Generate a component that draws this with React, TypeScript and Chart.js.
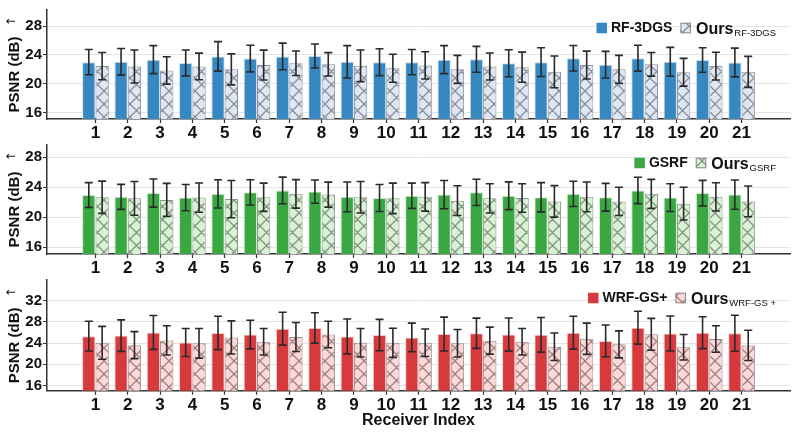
import React, { useEffect, useRef } from 'react';
import { Chart, registerables } from 'chart.js';

Chart.register(...registerables);

// ---------------- DATA ----------------
const receivers = ['1','2','3','4','5','6','7','8','9','10','11','12','13','14','15','16','17','18','19','20','21'];

const rf3dgsMean = [23.0, 23.05, 23.35, 22.9, 23.8, 23.5, 23.8, 23.85, 23.05, 23.0, 23.0, 23.35, 23.4, 22.85, 23.0, 23.55, 22.65, 23.55, 23.05, 23.3, 22.95];
const rf3dgsStd = [1.75, 1.85, 1.95, 1.8, 2.05, 1.85, 1.85, 1.67, 2.25, 1.87, 1.76, 1.95, 1.8, 1.87, 2.0, 1.77, 1.85, 1.8, 2.0, 1.7, 2.0];
const oursRf3dgsMean = [22.45, 22.4, 21.85, 22.4, 22.0, 22.6, 22.85, 22.7, 22.5, 22.15, 22.55, 22.0, 22.4, 22.3, 21.65, 22.6, 22.0, 22.7, 21.6, 22.45, 21.65];
const oursRf3dgsStd = [1.9, 2.3, 1.9, 1.85, 2.15, 2.07, 1.7, 1.62, 2.2, 1.95, 1.9, 1.95, 1.87, 2.1, 2.2, 1.93, 1.95, 1.64, 1.93, 1.93, 2.15];

const gsrfMean = [22.95, 22.7, 23.2, 22.6, 23.1, 23.3, 23.55, 23.4, 22.7, 22.55, 22.85, 23.0, 23.3, 22.85, 22.65, 23.1, 22.65, 23.55, 22.6, 23.2, 23.0];
const gsrfStd = [1.65, 1.66, 1.87, 1.75, 1.88, 1.68, 1.77, 1.55, 1.98, 1.79, 1.68, 1.88, 1.75, 1.85, 1.94, 1.68, 1.85, 1.75, 1.85, 1.7, 1.95];
const oursGsrfMean = [22.65, 22.5, 22.3, 22.6, 22.4, 22.65, 23.1, 23.0, 22.65, 22.5, 22.7, 22.2, 22.5, 22.55, 22.1, 22.7, 22.1, 23.1, 21.8, 22.7, 22.1];
const oursGsrfStd = [2.15, 2.24, 2.2, 1.95, 2.48, 1.88, 1.9, 1.66, 2.1, 2.03, 1.9, 1.97, 1.95, 1.9, 2.1, 1.98, 1.87, 1.93, 2.17, 1.87, 2.05];

const wrfgsMean = [25.3, 25.4, 26.0, 24.1, 25.9, 25.6, 26.7, 26.85, 25.25, 25.5, 25.05, 25.7, 25.85, 25.6, 25.55, 25.95, 24.4, 26.9, 25.8, 25.95, 25.85];
const wrfgsStd = [2.8, 2.97, 3.2, 2.65, 3.15, 2.7, 3.1, 2.87, 3.3, 2.97, 2.7, 3.2, 2.85, 3.13, 3.27, 3.1, 3.0, 3.1, 3.3, 3.0, 3.4];
const oursWrfgsMean = [24.05, 23.6, 24.5, 23.95, 25.05, 24.25, 25.15, 25.6, 24.05, 24.05, 24.05, 23.95, 24.45, 24.25, 23.3, 24.8, 23.75, 25.65, 23.2, 24.75, 23.55];
const oursWrfgsStd = [3.1, 2.55, 2.75, 2.8, 3.13, 2.5, 2.74, 2.5, 2.7, 2.75, 2.6, 2.6, 2.55, 2.5, 2.6, 2.95, 2.55, 3.0, 2.4, 2.5, 2.85];

const yTicksTop = [16, 20, 24, 28];
const yTicksBottom = [16, 20, 24, 28, 32];

const yAxisTitle = 'PSNR (dB)';
const xAxisTitle = 'Receiver Index';

// ---------------- STYLE ----------------
const FONT = '"Liberation Sans", Arial, sans-serif';

function makeHatch(ctx: CanvasRenderingContext2D, bg: string, line: string) {
  const s = 13;
  const c = document.createElement('canvas');
  c.width = s; c.height = s;
  const g = c.getContext('2d')!;
  g.fillStyle = bg;
  g.fillRect(0, 0, s, s);
  g.strokeStyle = line;
  g.lineWidth = 1.3;
  g.beginPath();
  for (const dx of [-s, 0, s]) {
    g.moveTo(dx - 1, -1); g.lineTo(dx + s + 1, s + 1);
    g.moveTo(dx + s + 1, -1); g.lineTo(dx - 1, s + 1);
  }
  g.stroke();
  return ctx.createPattern(c, 'repeat')!;
}

const errorBarPlugin = {
  id: 'errbars',
  afterDatasetsDraw(chart: any, _args: any, opts: any) {
    const ctx = chart.ctx;
    const y = chart.scales.y;
    const area = chart.chartArea;
    ctx.save();
    ctx.beginPath();
    ctx.rect(area.left, area.top - 2, area.right - area.left, area.bottom - area.top + 2);
    ctx.clip();
    ctx.strokeStyle = '#2a2a2a';
    ctx.lineWidth = 1.6;
    chart.data.datasets.forEach((ds: any, i: number) => {
      const meta = chart.getDatasetMeta(i);
      const errs = opts.errors[i];
      meta.data.forEach((bar: any, j: number) => {
        const v = ds.data[j];
        if (v == null) return;
        const e = errs[j - 1];
        const x = bar.x;
        const t = y.getPixelForValue(v + e);
        const b = y.getPixelForValue(v - e);
        const cw = 4;
        ctx.beginPath();
        ctx.moveTo(x, t); ctx.lineTo(x, b);
        ctx.moveTo(x - cw, t); ctx.lineTo(x + cw, t);
        ctx.moveTo(x - cw, b); ctx.lineTo(x + cw, b);
        ctx.stroke();
      });
    });
    ctx.restore();
  },
};

const legendPlugin = {
  id: 'customLegend',
  afterDraw(chart: any, _args: any, opts: any) {
    const ctx = chart.ctx;
    const area = chart.chartArea;
    const cy = area.top + 18;
    const mainFont = `bold 14px ${FONT}`;
    const oursFont = `bold 16px ${FONT}`;
    const subFont = `9.5px ${FONT}`;
    ctx.save();
    ctx.font = mainFont;
    const wMain = ctx.measureText(opts.label).width;
    ctx.font = oursFont;
    const wOurs = ctx.measureText('Ours').width;
    ctx.font = subFont;
    const wSub = ctx.measureText(opts.sub).width;
    const box = 10.5;
    const total = box + 4 + wMain + 8 + box + 5 + wOurs + 1 + wSub;
    let x = area.right - 14 - total;
    // filled box
    ctx.fillStyle = opts.color;
    ctx.fillRect(x, cy - box / 2, box, box);
    x += box + 4;
    ctx.fillStyle = '#111';
    ctx.font = mainFont;
    ctx.textBaseline = 'middle';
    ctx.textAlign = 'left';
    ctx.fillText(opts.label, x, cy + 0.5);
    x += wMain + 8;
    // hatched box
    ctx.fillStyle = opts.pattern;
    ctx.fillRect(x, cy - box / 2, box, box);
    ctx.strokeStyle = '#8a8a8a';
    ctx.lineWidth = 1;
    ctx.strokeRect(x + 0.5, cy - box / 2 + 0.5, box - 1, box - 1);
    x += box + 5;
    ctx.fillStyle = '#111';
    ctx.font = oursFont;
    ctx.textBaseline = 'alphabetic';
    ctx.fillText('Ours', x, cy + 6);
    x += wOurs + 1;
    ctx.font = subFont;
    ctx.fillText(opts.sub, x, cy + 7.5);
    ctx.restore();
  },
};

const yTitlePlugin = {
  id: 'yTitle',
  afterDraw(chart: any) {
    const ctx = chart.ctx;
    const area = chart.chartArea;
    const cy = (area.top + area.bottom) / 2;
    const cx = 14;
    ctx.save();
    ctx.translate(cx, cy);
    ctx.rotate(-Math.PI / 2);
    const f1 = `bold 15px ${FONT}`;
    const f2 = `12px "DejaVu Sans", sans-serif`;
    ctx.font = f1;
    const w1 = ctx.measureText(yAxisTitle).width;
    ctx.font = f2;
    const w2 = ctx.measureText('↑').width;
    const gap = 10;
    const total = w1 + gap + w2;
    let x = -total / 2;
    ctx.fillStyle = '#111';
    ctx.textBaseline = 'middle';
    ctx.textAlign = 'left';
    ctx.font = f1;
    ctx.fillText(yAxisTitle, x, 1);
    x += w1 + gap;
    ctx.font = f2;
    ctx.fillText('↑', x, -2);
    ctx.restore();
  },
};

interface PanelSpec {
  base: number[]; baseErr: number[]; ours: number[]; oursErr: number[];
  label: string; sub: string; color: string; edge: string; light: string; hatchLine: string; hatchEdge: string;
  yMin: number; yMax: number; yTicks: number[];
  padTop: number; xHeight: number; showXTitle: boolean;
}

function makeChart(canvas: HTMLCanvasElement, p: PanelSpec) {
  const ctx = canvas.getContext('2d')!;
  const pattern = makeHatch(ctx, p.light, p.hatchLine);
  const labels = ['', ...receivers, ''];
  const pad = (a: number[]) => [null, ...a, null];
  return new Chart(ctx, {
    type: 'bar',
    data: {
      labels,
      datasets: [
        {
          label: p.label,
          data: pad(p.base) as any,
          backgroundColor: p.color,
          borderColor: p.edge,
          borderWidth: 1,
          categoryPercentage: 0.826,
          barPercentage: 1,
        },
        {
          label: 'Ours',
          data: pad(p.ours) as any,
          backgroundColor: pattern as any,
          borderColor: p.hatchEdge,
          borderWidth: 1,
          categoryPercentage: 0.826,
          barPercentage: 1,
        },
      ],
    },
    options: {
      animation: false,
      responsive: false,
      devicePixelRatio: 1,
      layout: { padding: { top: p.padTop, right: 7, left: 0, bottom: 0 } },
      plugins: {
        legend: { display: false },
        tooltip: { enabled: false },
        errbars: { errors: [p.baseErr, p.oursErr] },
        customLegend: { label: p.label, sub: p.sub, color: p.color, pattern },
      } as any,
      scales: {
        x: {
          type: 'category',
          offset: true,
          grid: { display: true, drawOnChartArea: false, offset: false, tickLength: 4, tickColor: '#333', tickWidth: 1.2 },
          border: { color: '#333', width: 1.5 },
          ticks: { font: { family: FONT, size: 17, weight: 'bold' }, color: '#111', padding: 0, maxRotation: 0, autoSkip: false },
          afterBuildTicks: (s: any) => { s.ticks = s.ticks.filter((t: any) => t.value > 0 && t.value < labels.length - 1); },
          afterFit: (s: any) => { s.height = p.xHeight; },
          title: {
            display: p.showXTitle,
            text: xAxisTitle,
            font: { family: FONT, size: 16, weight: 'bold' },
            color: '#111',
            padding: { top: 0, bottom: 3 },
          },
        },
        y: {
          min: p.yMin,
          max: p.yMax,
          grid: { color: '#e4e4e4', lineWidth: 1, tickColor: '#333', tickLength: 4 },
          border: { color: '#333', width: 1.5 },
          ticks: { font: { family: FONT, size: 15, weight: 'bold' }, color: '#111', padding: 1 },
          afterBuildTicks: (s: any) => { s.ticks = p.yTicks.map((v) => ({ value: v })); },
          afterFit: (s: any) => { s.width = 47; },
        },
      },
    },
    plugins: [errorBarPlugin, legendPlugin, yTitlePlugin],
  });
}

export default function App() {
  const r1 = useRef<HTMLCanvasElement>(null);
  const r2 = useRef<HTMLCanvasElement>(null);
  const r3 = useRef<HTMLCanvasElement>(null);

  useEffect(() => {
    const charts = [
      makeChart(r1.current!, {
        base: rf3dgsMean, baseErr: rf3dgsStd, ours: oursRf3dgsMean, oursErr: oursRf3dgsStd,
        label: 'RF-3DGS', sub: 'RF-3DGS', color: '#3787c0', edge: 'rgba(190,215,240,0.8)',
        light: '#dfe7f3', hatchLine: 'rgba(80,85,95,0.6)', hatchEdge: '#8c9099',
        yMin: 15.1, yMax: 30.25, yTicks: yTicksTop, padTop: 7, xHeight: 19, showXTitle: false,
      }),
      makeChart(r2.current!, {
        base: gsrfMean, baseErr: gsrfStd, ours: oursGsrfMean, oursErr: oursGsrfStd,
        label: 'GSRF', sub: 'GSRF', color: '#3ba743', edge: 'rgba(190,235,190,0.8)',
        light: '#d9f1d4', hatchLine: 'rgba(70,90,70,0.6)', hatchEdge: '#8a968a',
        yMin: 15.1, yMax: 29.6, yTicks: yTicksTop, padTop: 7.3, xHeight: 19, showXTitle: false,
      }),
      makeChart(r3.current!, {
        base: wrfgsMean, baseErr: wrfgsStd, ours: oursWrfgsMean, oursErr: oursWrfgsStd,
        label: 'WRF-GS+', sub: 'WRF-GS +', color: '#d63a3d', edge: 'rgba(245,190,190,0.8)',
        light: '#fdd8d8', hatchLine: 'rgba(95,70,70,0.6)', hatchEdge: '#9a8a8a',
        yMin: 15, yMax: 35.9, yTicks: yTicksBottom, padTop: 7.3, xHeight: 42.3, showXTitle: true,
      }),
    ];
    return () => charts.forEach((c) => c.destroy());
  }, []);

  return (
    <div style={{ position: 'fixed', left: 0, top: 0, width: 797, height: 433, background: '#fff', overflow: 'hidden' }}>
      <canvas ref={r1} width={797} height={138} style={{ position: 'absolute', left: 0, top: 0 }} />
      <canvas ref={r2} width={797} height={138} style={{ position: 'absolute', left: 0, top: 135 }} />
      <canvas ref={r3} width={797} height={163} style={{ position: 'absolute', left: 0, top: 270 }} />
    </div>
  );
}
